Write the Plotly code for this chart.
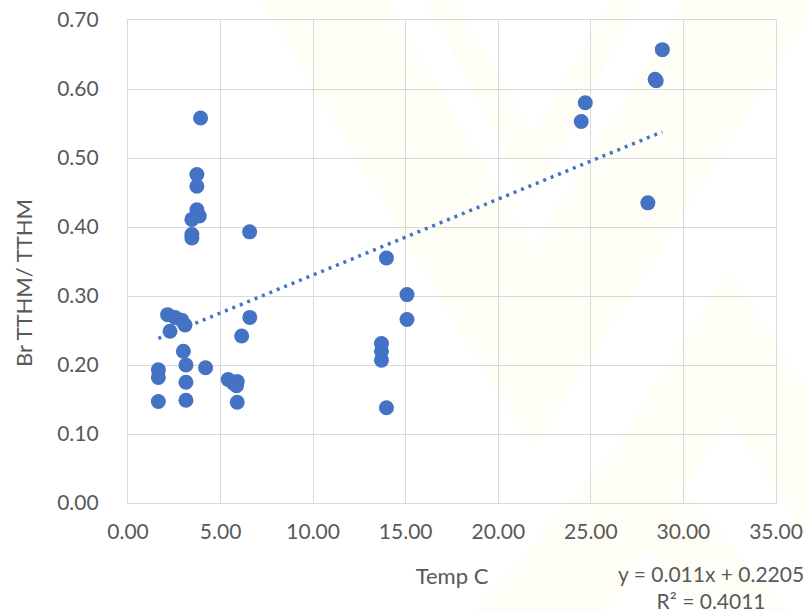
import plotly.graph_objects as go

# ---- data ----
temp_c = [1.64, 1.64, 1.64, 2.14, 2.27, 2.54, 2.90, 3.08, 2.99, 3.13, 3.13, 3.13,
          3.45, 3.45, 3.45, 3.72, 3.72, 3.72, 3.85, 3.92, 4.19, 5.41, 5.68, 5.90,
          5.86, 5.90, 6.14, 6.58, 6.57, 13.69, 13.69, 13.69, 13.96, 13.96, 15.07,
          15.07, 24.48, 24.70, 28.08, 28.47, 28.53, 28.86]
br_ratio = [0.193, 0.182, 0.147, 0.273, 0.249, 0.269, 0.265, 0.258, 0.220, 0.200, 0.175, 0.149,
            0.411, 0.389, 0.384, 0.476, 0.459, 0.425, 0.416, 0.558, 0.196, 0.179, 0.174, 0.176,
            0.170, 0.146, 0.242, 0.269, 0.393, 0.231, 0.220, 0.207, 0.355, 0.138, 0.302,
            0.266, 0.553, 0.580, 0.435, 0.614, 0.612, 0.657]
slope = 0.011
intercept = 0.2205
r_squared = 0.4011
x_ticks = [0, 5, 10, 15, 20, 25, 30, 35]
y_ticks = [0.0, 0.1, 0.2, 0.3, 0.4, 0.5, 0.6, 0.7]

W, H = 808, 612
L, R, T, B = 128, 31.5, 20, 108.7
PW, PH = W - L - R, H - T - B

BLUE = "#4472C4"
GREY = "#595959"
FONT = "Lato"

trend_x = [min(temp_c), max(temp_c)]
trend_y = [slope * v + intercept for v in trend_x]

fig = go.Figure()
fig.add_trace(go.Scatter(x=trend_x, y=trend_y, mode="lines",
                         line=dict(color=BLUE, width=3.5, dash="3px,5px"),
                         hoverinfo="skip", showlegend=False))
fig.add_trace(go.Scatter(x=temp_c, y=br_ratio, mode="markers",
                         marker=dict(color=BLUE, size=15, line=dict(width=0)),
                         showlegend=False))

# faint watermark (decorative background), pixel -> paper conversion
def pp(px, py):
    return (px - L) / PW, (H - B - py) / PH

def poly(points):
    parts = []
    for i, (px, py) in enumerate(points):
        x, y = pp(px, py)
        parts.append(("M" if i == 0 else "L") + f"{x:.4f},{y:.4f}")
    return " ".join(parts) + " Z"

wm = [
    [(260, 0), (387, 0), (533, 247), (687, 0), (821, 0), (533, 450)],
    [(424, 0), (455, 0), (533, 133), (611, 0), (642, 0), (533, 200)],
    [(730, 270), (951, 612), (854, 612), (730, 420), (606, 612), (509, 612)],
    [(632, 430), (790, 612), (700, 612), (632, 530), (564, 612), (474, 612)],
]
shapes = [dict(type="path", xref="paper", yref="paper", path=poly(p),
               fillcolor="#FFFEF6", line=dict(width=0), layer="below") for p in wm]

axis_common = dict(showgrid=True, gridcolor="#D9D9D9", gridwidth=1.3,
                   showline=True, linecolor="#D9D9D9", linewidth=1.3, mirror=True,
                   zeroline=False, ticks="", tickformat=".2f", automargin=False,
                   tickfont=dict(family=FONT, size=21, color=GREY))

fig.update_layout(
    width=W, height=H,
    margin=dict(l=L, r=R, t=T, b=B, pad=0, autoexpand=False),
    paper_bgcolor="white", plot_bgcolor="rgba(0,0,0,0)",
    shapes=shapes,
    xaxis=dict(range=[0, 35], tickvals=x_ticks, ticklabelstandoff=10,
               title=dict(text="Temp C", font=dict(family=FONT, size=22, color=GREY),
                          standoff=26),
               **axis_common),
    yaxis=dict(range=[0, 0.7], tickvals=y_ticks, ticklabelstandoff=24,
               **axis_common),
    annotations=[
        dict(text="Br TTHM/ TTHM", xref="paper", yref="paper",
             x=(24 - L) / PW, y=(H - B - 283) / PH, textangle=-90, showarrow=False,
             xanchor="center", yanchor="middle",
             font=dict(family=FONT, size=22, color=GREY)),
        dict(text=f"y = {slope}x + {intercept}<br>R² = {r_squared}",
             xref="paper", yref="paper", x=(711 - L) / PW, y=(H - B - 587) / PH,
             showarrow=False, xanchor="center", yanchor="middle", align="center",
             font=dict(family=FONT, size=21, color=GREY)),
    ],
)

fig.write_html("out.html", config={"displayModeBar": False},
               post_script="document.body.style.margin='0';document.body.style.padding='0';")
